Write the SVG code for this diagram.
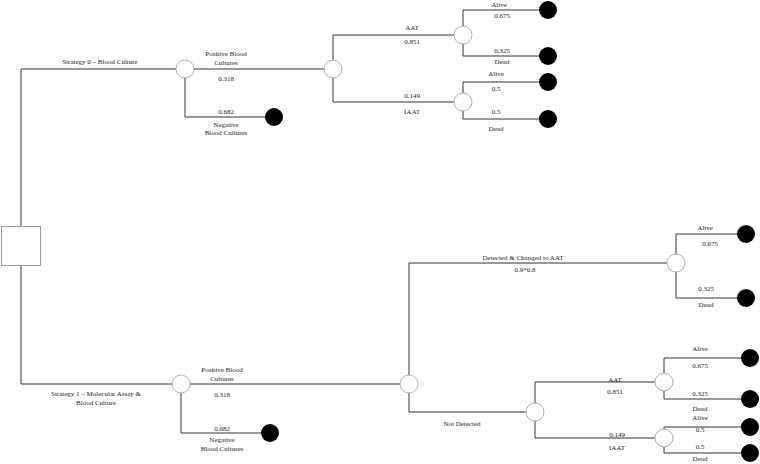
<svg xmlns="http://www.w3.org/2000/svg" width="760" height="464" viewBox="0 0 760 464">
<style>
.e{fill:none;stroke:#333;stroke-width:1}
.c{fill:#fff;stroke:#999;stroke-width:0.8}
.d{fill:#fff;stroke:#999;stroke-width:1}
.t{fill:#000;stroke:none}
text{font-family:"Liberation Serif","Times New Roman",serif;font-size:7px;fill:#222;text-anchor:middle}
</style>
<rect width="760" height="464" fill="#fff"/>
<g id="connectors">
<path class="e" d="M21,226V69H185M21,265V384H181"/>
<path class="e" d="M185,69H333M185,69V117H274"/>
<path class="e" d="M333,69V35H463M333,69V102H463"/>
<path class="e" d="M463,35V10H548M463,35V56H548"/>
<path class="e" d="M463,102V82H548M463,102V119H548"/>
<path class="e" d="M181,384H409M181,384V433H270"/>
<path class="e" d="M409,384V263H676M409,384V412H535"/>
<path class="e" d="M676,263V234H746M676,263V298H746"/>
<path class="e" d="M535,412V382H664M535,412V438H664"/>
<path class="e" d="M664,382V358H750M664,382V399H750"/>
<path class="e" d="M664,438V427H750M664,438V453H750"/>
</g>
<g id="labels">
<text x="100" y="63.5">Strategy 0 – Blood Culture</text>
<text x="226" y="55.5">Positive Blood</text>
<text x="226" y="64.5">Cultures</text>
<text x="226" y="80.5">0.318</text>
<text x="226" y="113.5">0.682</text>
<text x="226" y="126.5">Negative</text>
<text x="226" y="134.5">Blood Cultures</text>
<text x="412" y="29.5">AAT</text>
<text x="412" y="43.5">0.851</text>
<text x="412" y="97.5">0.149</text>
<text x="412" y="113.5">IAAT</text>
<text x="499" y="6.5">Alive</text>
<text x="502" y="17.5">0.675</text>
<text x="502" y="52.5">0.325</text>
<text x="502" y="63.5">Dead</text>
<text x="496" y="75.5">Alive</text>
<text x="496" y="90.5">0.5</text>
<text x="496" y="113.5">0.5</text>
<text x="496" y="130.5">Dead</text>
<text x="96" y="395.5">Strategy 1 – Molecular Assay &amp;</text>
<text x="96" y="404.5">Blood Culture</text>
<text x="222" y="371.5">Positive Blood</text>
<text x="222" y="380.5">Cultures</text>
<text x="222" y="396.5">0.318</text>
<text x="222" y="430.5">0.682</text>
<text x="222" y="441.5">Negative</text>
<text x="222" y="450.5">Blood Cultures</text>
<text x="523" y="259.5">Detected &amp; Changed to AAT</text>
<text x="525" y="271.5">0.9*0.8</text>
<text x="705" y="229.5">Alive</text>
<text x="710" y="245.5">0.675</text>
<text x="706" y="290.5">0.325</text>
<text x="706" y="306.5">Dead</text>
<text x="462" y="425.5">Not Detected</text>
<text x="615" y="381.5">AAT</text>
<text x="615" y="393.5">0.851</text>
<text x="617" y="436.5">0.149</text>
<text x="617" y="449.5">IAAT</text>
<text x="700" y="350.5">Alive</text>
<text x="700" y="367.5">0.675</text>
<text x="700" y="395.5">0.325</text>
<text x="700" y="410.5">Dead</text>
<text x="700" y="419.5">Alive</text>
<text x="700" y="431.5">0.5</text>
<text x="700" y="448.5">0.5</text>
<text x="700" y="460.5">Dead</text>
</g>
<g id="decision"><rect class="d" x="1.5" y="226.5" width="39" height="39"/></g>
<g id="chance-s0"><circle class="c" cx="185" cy="69" r="9"/></g>
<g id="chance-s0-pos"><circle class="c" cx="333" cy="69" r="9"/></g>
<g id="chance-s0-aat"><circle class="c" cx="463" cy="35" r="9"/></g>
<g id="chance-s0-iaat"><circle class="c" cx="463" cy="102" r="9"/></g>
<g id="chance-s1"><circle class="c" cx="181" cy="384" r="9"/></g>
<g id="chance-s1-pos"><circle class="c" cx="409" cy="384" r="9"/></g>
<g id="chance-s1-det"><circle class="c" cx="676" cy="263" r="9"/></g>
<g id="chance-s1-notdet"><circle class="c" cx="535" cy="412" r="9"/></g>
<g id="chance-s1-aat"><circle class="c" cx="664" cy="382" r="9"/></g>
<g id="chance-s1-iaat"><circle class="c" cx="664" cy="438" r="9"/></g>
<g id="term-s0-neg"><circle class="t" cx="274" cy="117" r="9"/></g>
<g id="term-s0-aat-alive"><circle class="t" cx="548" cy="10" r="9"/></g>
<g id="term-s0-aat-dead"><circle class="t" cx="548" cy="56" r="9"/></g>
<g id="term-s0-iaat-alive"><circle class="t" cx="548" cy="82" r="9"/></g>
<g id="term-s0-iaat-dead"><circle class="t" cx="548" cy="119" r="9"/></g>
<g id="term-s1-neg"><circle class="t" cx="270" cy="433" r="9"/></g>
<g id="term-s1-det-alive"><circle class="t" cx="746" cy="234" r="9"/></g>
<g id="term-s1-det-dead"><circle class="t" cx="746" cy="298" r="9"/></g>
<g id="term-s1-aat-alive"><circle class="t" cx="750" cy="358" r="9"/></g>
<g id="term-s1-aat-dead"><circle class="t" cx="750" cy="399" r="9"/></g>
<g id="term-s1-iaat-alive"><circle class="t" cx="750" cy="427" r="9"/></g>
<g id="term-s1-iaat-dead"><circle class="t" cx="750" cy="453" r="9"/></g>
</svg>
